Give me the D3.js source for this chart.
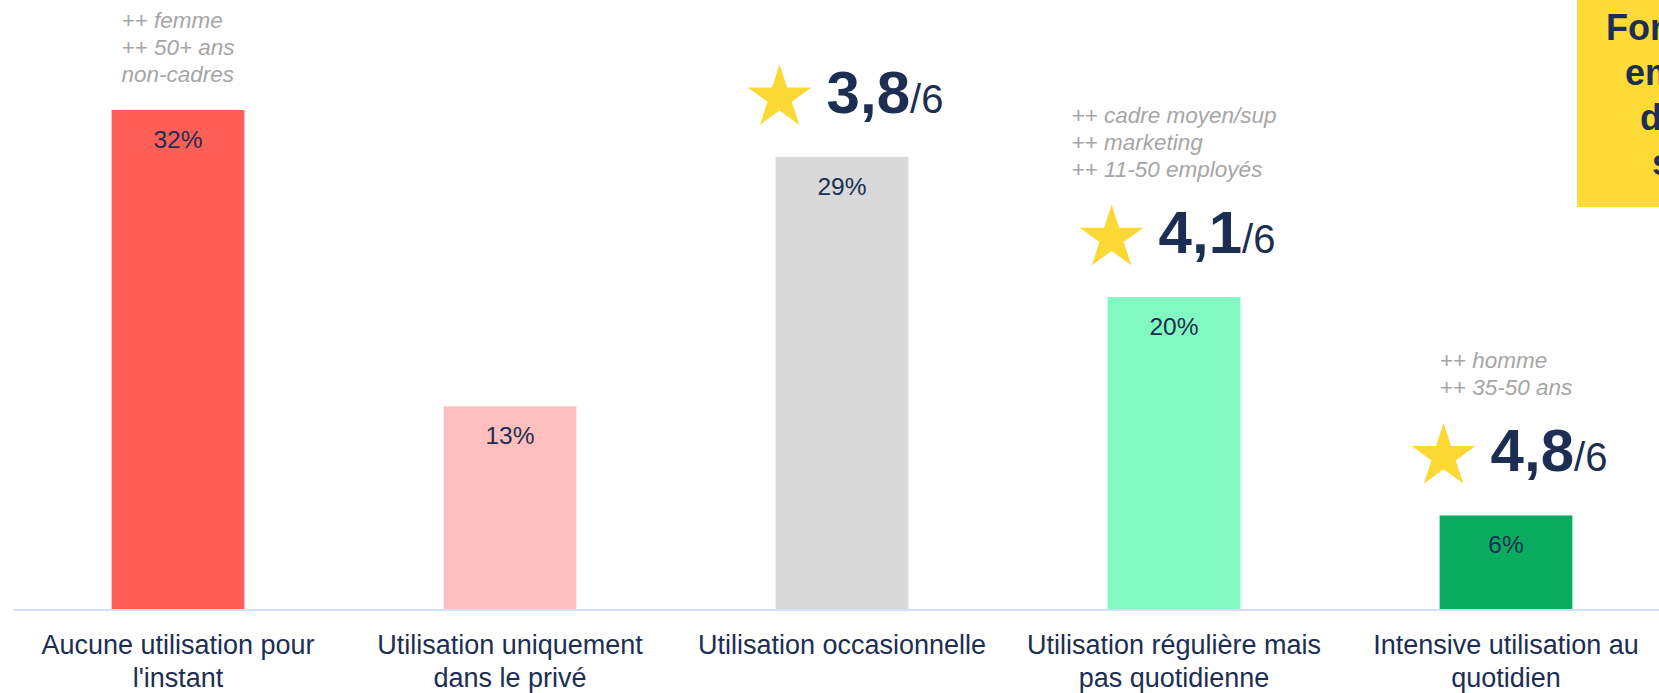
<!DOCTYPE html>
<html>
<head>
<meta charset="utf-8">
<script src="https://cdn.jsdelivr.net/npm/d3@7"></script>
<style>
  body { margin: 0; background: #fff; overflow: hidden; }
  svg { display: block; font-family: "Liberation Sans", Arial, sans-serif; }
</style>
</head>
<body>
<svg width="1659" height="693"></svg>
<script>
var width = 1659, height = 693

// usage categories (two lines each) and share of respondents in %
var categories = [
  ["Aucune utilisation pour", "l'instant"],
  ["Utilisation uniquement", "dans le privé"],
  ["Utilisation occasionnelle"],
  ["Utilisation régulière mais", "pas quotidienne"],
  ["Intensive utilisation au", "quotidien"]
]
var shares = [32, 13, 29, 20, 6]
var colors = ["#ff5f57", "#ffbfbd", "#d9d9d9", "#82f9c1", "#0aad60"]

// average score out of 6 (null = not shown)
var ratings = [null, null, 3.8, 4.1, 4.8]

// over-represented profiles
var profiles = [
  ["++ femme", "++ 50+ ans", "non-cadres"],
  [],
  [],
  ["++ cadre moyen/sup", "++ marketing", "++ 11-50 employés"],
  ["++ homme", "++ 35-50 ans"]
]

// text of the callout box, cut by the right edge
var boxLines = ["Former les", "employés en", "de toute", "sorte"]

var navy = "#1c2e52"
var svg = d3.select("svg")

var keys = categories.map(function(d) { return d.join(" ") })

var x = d3.scaleBand()
  .domain(keys)
  .range([12, 1672])
  .paddingInner(0.6)
  .paddingOuter(0.3)

var y = d3.scaleLinear()
  .domain([0, 32])
  .range([609, 110])

// baseline
svg.append("line")
  .attr("x1", 13).attr("x2", width)
  .attr("y1", y(0) + 1).attr("y2", y(0) + 1)
  .attr("stroke", "#d2e0f1")
  .attr("stroke-width", 2)

// bars
svg.selectAll(".bar")
  .data(shares)
  .enter().append("rect")
  .attr("class", "bar")
  .attr("x", function(d, i) { return x(keys[i]) })
  .attr("y", function(d) { return y(d) })
  .attr("width", x.bandwidth())
  .attr("height", function(d) { return y(0) - y(d) })
  .attr("fill", function(d, i) { return colors[i] })

// values inside bars
svg.selectAll(".value")
  .data(shares)
  .enter().append("text")
  .attr("class", "value")
  .attr("x", function(d, i) { return x(keys[i]) + x.bandwidth() / 2 })
  .attr("y", function(d) { return y(d) + 38 })
  .attr("text-anchor", "middle")
  .attr("font-size", 24.5)
  .attr("fill", navy)
  .text(function(d) { return d + "%" })

// category labels
var cat = svg.selectAll(".cat")
  .data(categories)
  .enter().append("text")
  .attr("class", "cat")
  .attr("text-anchor", "middle")
  .attr("font-size", 27)
  .attr("fill", navy)

cat.selectAll("tspan")
  .data(function(d, i) { return d.map(function(t) { return { t: t, i: i } }) })
  .enter().append("tspan")
  .attr("x", function(d) { return x(keys[d.i]) + x.bandwidth() / 2 })
  .attr("y", function(d, j) { return y(0) + 45 + j * 33 })
  .text(function(d) { return d.t })

// ratings with star
var fmt = function(v) { return d3.format(".1f")(v).replace(".", ",") }
var star = d3.symbol().type(d3.symbolStar).size(1260)

function ratingBase(i) { return y(shares[i]) - 44 }

var rating = svg.selectAll(".rating")
  .data(ratings.map(function(r, i) { return { r: r, i: i } }).filter(function(d) { return d.r != null }))
  .enter().append("g")
  .attr("class", "rating")
  .attr("transform", function(d) { return "translate(" + (x(keys[d.i]) + 4) + "," + ratingBase(d.i) + ")" })

rating.append("path")
  .attr("d", star)
  .attr("transform", "translate(0,-15)")
  .attr("fill", "#fcd835")

var rt = rating.append("text")
  .attr("x", 47)
  .attr("fill", navy)

rt.append("tspan")
  .attr("font-size", 60)
  .attr("font-weight", "bold")
  .text(function(d) { return fmt(d.r) })

rt.append("tspan")
  .attr("font-size", 40)
  .text("/6")

// profile notes
var note = svg.selectAll(".note")
  .data(profiles)
  .enter().append("text")
  .attr("class", "note")
  .attr("font-size", 22.5)
  .attr("font-style", "italic")
  .attr("fill", "#a6a6a6")

note.each(function(lines, i) {
  var t = d3.select(this)
  var bottom = ratings[i] == null ? y(shares[i]) - 28 : ratingBase(i) - 76
  t.selectAll("tspan")
    .data(lines)
    .enter().append("tspan")
    .attr("y", function(d, j) { return bottom - (lines.length - 1 - j) * 27 })
    .text(function(d) { return d })
  var w = 0
  t.selectAll("tspan").each(function() { w = Math.max(w, this.getComputedTextLength()) })
  t.selectAll("tspan").attr("x", x(keys[i]) + x.bandwidth() / 2 - w / 2)
})

// yellow callout at the right edge
svg.append("rect")
  .attr("x", 1577).attr("y", 0)
  .attr("width", 200).attr("height", 207)
  .attr("fill", "#fdda35")

var boxX = [1606, 1625, 1640, 1652]
svg.append("text")
  .attr("font-size", 36)
  .attr("font-weight", "bold")
  .attr("fill", navy)
  .selectAll("tspan")
  .data(boxLines)
  .enter().append("tspan")
  .attr("x", function(d, i) { return boxX[i] })
  .attr("y", function(d, i) { return 40 + i * 45 })
  .text(function(d) { return d })
</script>
</body>
</html>
